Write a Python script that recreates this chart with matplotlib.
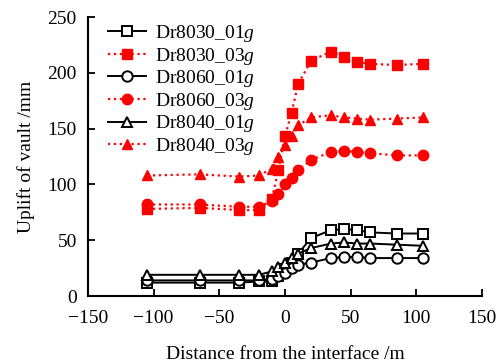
import matplotlib
matplotlib.use('Agg')
import matplotlib.pyplot as plt

plt.rcParams['font.family'] = ['Liberation Serif', 'DejaVu Serif']
plt.rcParams['mathtext.fontset'] = 'custom'
plt.rcParams['mathtext.rm'] = 'Liberation Serif'
plt.rcParams['mathtext.it'] = 'Liberation Serif:italic'
plt.rcParams['font.size'] = 14

# distance from the interface (m)
distance = [-105, -65, -35, -20, -10, -5, 0, 5, 10, 20, 35, 45, 55, 65, 85, 105]

# uplift of vault (mm)
dr8030_01g = [12, 12, 12, 13, 13, 18, 24, 30, 38, 52, 59, 60, 59, 57, 56, 56]
dr8030_03g = [78, 79, 77, 77, 87, 113, 143, 164, 190, 211, 219, 214, 210, 208, 207, 208]
dr8060_01g = [14, 14, 14, 14, 15, 18, 21, 25, 28, 30, 34, 35, 35, 34, 34, 34]
dr8060_03g = [82, 82, 80, 80, 85, 91, 100, 106, 113, 122, 129, 130, 129, 128, 126, 126]
dr8040_01g = [19, 19, 19, 19, 22, 26, 30, 34, 38, 43, 47, 48, 47, 47, 46, 45]
dr8040_03g = [108, 109, 107, 108, 114, 125, 135, 143, 153, 160, 162, 160, 159, 158, 159, 160]

fig = plt.figure(figsize=(5.01, 3.62), dpi=100)
ax = fig.add_axes([0.1756, 0.1823, 0.7864, 0.7707])

black = dict(color='black', linestyle='-', linewidth=1.4, markersize=7.5,
             markerfacecolor='white', markeredgecolor='black', markeredgewidth=1.4)
red = dict(color='red', linestyle=':', linewidth=1.6, markersize=7.5,
           markerfacecolor='red', markeredgecolor='red')

ax.plot(distance, dr8030_01g, marker='s', label=r'Dr8030_01$g$', **black)
ax.plot(distance, dr8030_03g, marker='s', label=r'Dr8030_03$g$', **red)
ax.plot(distance, dr8060_01g, marker='o', label=r'Dr8060_01$g$', **black)
ax.plot(distance, dr8060_03g, marker='o', label=r'Dr8060_03$g$', **red)
ax.plot(distance, dr8040_01g, marker='^', label=r'Dr8040_01$g$', **black)
ax.plot(distance, dr8040_03g, marker='^', label=r'Dr8040_03$g$', **red)

ax.set_xlim(-150, 150)
ax.set_ylim(0, 250)
ax.set_xticks(range(-150, 151, 50))
ax.set_yticks(range(0, 251, 50))
ax.tick_params(direction='in', length=5, width=1.3)
ax.tick_params(axis='x', pad=10)
ax.tick_params(axis='y', pad=8)
ax.spines['top'].set_visible(False)
ax.spines['right'].set_visible(False)
ax.spines['left'].set_linewidth(1.5)
ax.spines['bottom'].set_linewidth(1.5)

ax.set_xlabel('Distance from the interface /m', labelpad=14)
ax.set_ylabel('Uplift of vault /mm', labelpad=9)

ax.legend(loc='upper left', frameon=False, handlelength=2.0, handletextpad=0.45,
          labelspacing=0.08, borderaxespad=0.2, bbox_to_anchor=(0.02, 1.02))

fig.savefig('out.png', dpi=100)
